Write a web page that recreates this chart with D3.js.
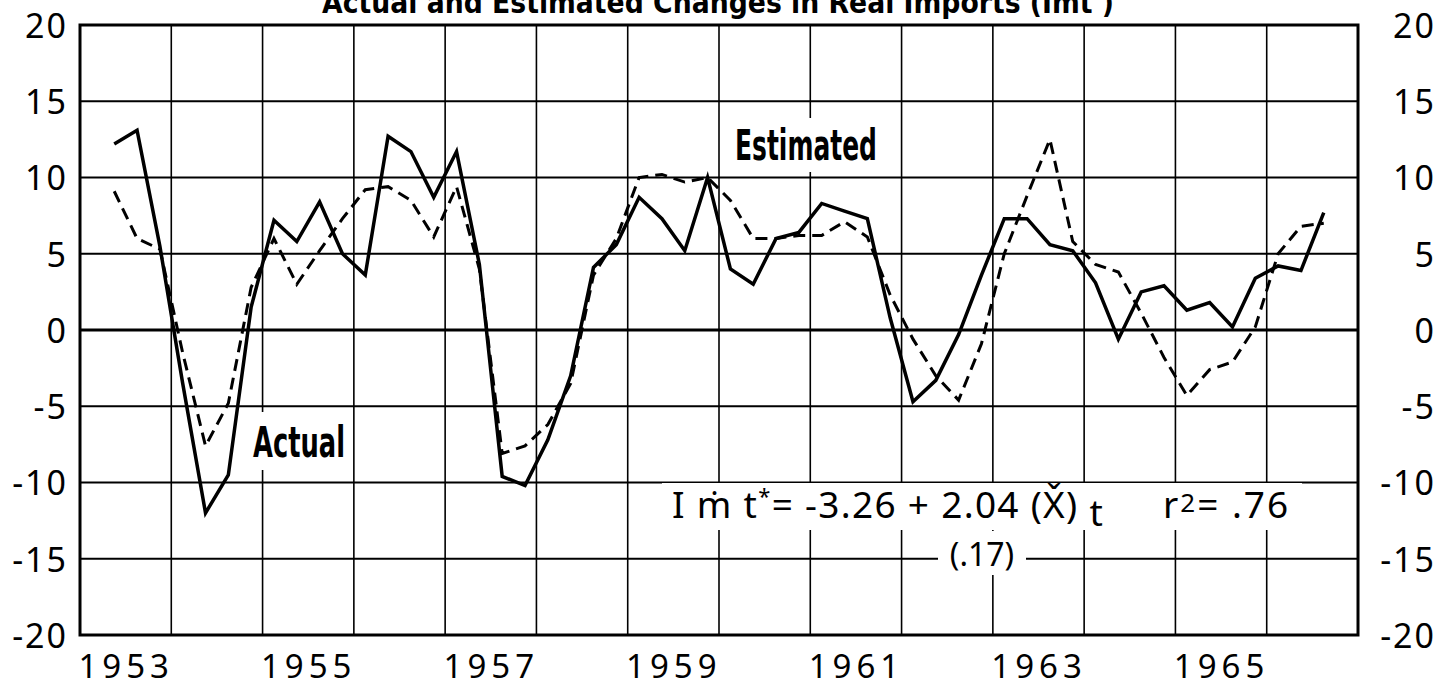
<!DOCTYPE html>
<html>
<head>
<meta charset="utf-8">
<script src="https://cdn.jsdelivr.net/npm/d3@7"></script>
<style>
  body{margin:0;background:#fff;}
  svg{display:block;}
</style>
</head>
<body>
<div id="canvas"></div>
<script>
// quarters plotted, 1953 Q2 .. 1966 Q3
var quarters = [];
for(var yr = 1953; yr <= 1966; yr++){
  for(var q = 1; q <= 4; q++){
    if((yr == 1953 && q == 1) || (yr == 1966 && q == 4)) continue;
    quarters.push(yr + 'Q' + q);
  }
}
// actual changes in real imports
var actual = [12.2, 13.1, 5.5,
  -3.5, -12.0, -9.5, 1.5,
  7.2, 5.8, 8.4, 5.0,
  3.6, 12.7, 11.7, 8.7,
  11.7, 4.3, -9.6, -10.2,
  -7.2, -3.0, 4.1, 5.6,
  8.7, 7.3, 5.2, 10.0,
  4.0, 3.0, 6.0, 6.4,
  8.3, 7.8, 7.3, 0.8,
  -4.7, -3.3, -0.3, 3.6,
  7.3, 7.3, 5.6, 5.2,
  3.1, -0.6, 2.5, 2.9,
  1.3, 1.8, 0.2, 3.4,
  4.2, 3.9, 7.7];
// estimated changes
var estimated = [9.1, 6.0, 5.3,
  -1.5, -7.6, -4.8, 2.8,
  6.0, 3.0, 5.2, 7.3,
  9.2, 9.4, 8.5, 6.1,
  9.4, 4.0, -8.1, -7.6,
  -6.2, -3.5, 3.6, 6.0,
  10.0, 10.2, 9.7, 10.0,
  8.5, 6.0, 6.0, 6.2,
  6.2, 7.1, 6.1, 2.3,
  -0.6, -3.0, -4.6, -0.9,
  5.0, 8.8, 12.5, 5.8,
  4.3, 3.8, 1.1, -1.8,
  -4.3, -2.6, -2.1, 0.2,
  5.0, 6.8, 7.0];
var yTicks = [20, 15, 10, 5, 0, -5, -10, -15, -20];
var yearLines = d3.range(1953, 1968);
var yearLabels = [1953, 1955, 1957, 1959, 1961, 1963, 1965];

var W = 1444, H = 687;
//plot frame (top is a window property, so use other names)
var plotL = 80, plotR = 1358, plotT = 25, plotB = 635;

var svg = d3.select('#canvas').append('svg')
  .attr('width', W).attr('height', H);

var x = d3.scaleLinear().domain([1953, 1967]).range([plotL, plotR]);
var y = d3.scaleLinear().domain([-20, 20]).range([plotB, plotT]);

//quarter label -> mid point of that quarter in years
function qTime(s){
  return +s.slice(0, 4) + (+s.slice(5) - 0.5) / 4;
}
//plain hyphen for negatives, like the original typesetting
function hyph(d){
  return d < 0 ? '-' + Math.abs(d) : '' + d;
}

//title, mostly cut off at the top edge like the scan
svg.append('text')
  .attr('x', 718).attr('y', 13)
  .attr('text-anchor', 'middle')
  .attr('font-family', '"Liberation Sans Narrow", "DejaVu Sans Condensed", sans-serif')
  .attr('font-weight', 'bold')
  .attr('font-size', 30)
  .attr('textLength', 792).attr('lengthAdjust', 'spacingAndGlyphs')
  .text('Actual and Estimated Changes in Real Imports (Imt )');

//horizontal grid
svg.append('g').selectAll('line').data(yTicks).enter().append('line')
  .attr('x1', plotL).attr('x2', plotR)
  .attr('y1', function(d){return y(d)}).attr('y2', function(d){return y(d)})
  .attr('stroke', '#000')
  .attr('stroke-width', function(d){return d == 0 ? 3 : 2});

//vertical grid, one per year
svg.append('g').selectAll('line').data(yearLines).enter().append('line')
  .attr('x1', function(d){return x(d)}).attr('x2', function(d){return x(d)})
  .attr('y1', plotT).attr('y2', plotB)
  .attr('stroke', '#000').attr('stroke-width', 1.6);

//frame
svg.append('rect')
  .attr('x', plotL).attr('y', plotT)
  .attr('width', plotR - plotL).attr('height', plotB - plotT)
  .attr('fill', 'none').attr('stroke', '#000').attr('stroke-width', 3);

var numFont = '"Noto Sans", "DejaVu Sans", sans-serif';

//left axis labels
var yAxisL = svg.append('g')
  .attr('transform', 'translate(' + 68 + ',0)')
  .call(d3.axisLeft(y).tickValues(yTicks).tickFormat(hyph).tickSize(0).tickPadding(0));
//right axis labels
var yAxisR = svg.append('g')
  .attr('transform', 'translate(' + 1436 + ',0)')
  .call(d3.axisLeft(y).tickValues(yTicks).tickFormat(hyph).tickSize(0).tickPadding(0));
//bottom year labels, centred in the year
var xAxis = svg.append('g')
  .attr('transform', 'translate(0,' + plotB + ')')
  .call(d3.axisBottom(x)
    .tickValues(yearLabels.map(function(d){return d + 0.5}))
    .tickFormat(function(d){return Math.floor(d)})
    .tickSize(0).tickPadding(20));

[yAxisL, yAxisR, xAxis].forEach(function(a){
  a.select('.domain').remove();
  a.selectAll('text')
   .attr('font-family', numFont)
   .attr('font-size', 34)
   .attr('fill', '#000')
   .attr('letter-spacing', 2);
});
yAxisL.selectAll('text').attr('dy', '0.36em');
yAxisR.selectAll('text').attr('dy', '0.36em');
xAxis.selectAll('text').attr('font-size', 33).attr('letter-spacing', 5).attr('dy', '0.71em');

//white boxes behind the labels that break the grid
var boxes = [[728, 118, 154, 54], [247, 412, 104, 58], [662, 483, 640, 47], [938, 531, 88, 44]];
svg.append('g').selectAll('rect').data(boxes).enter().append('rect')
  .attr('x', function(d){return d[0]}).attr('y', function(d){return d[1]})
  .attr('width', function(d){return d[2]}).attr('height', function(d){return d[3]})
  .attr('fill', '#fff');

var condFont = '"Liberation Sans Narrow", "DejaVu Sans Condensed", sans-serif';
svg.append('text')
  .attr('x', 735).attr('y', 160)
  .attr('font-family', condFont).attr('font-weight', 'bold').attr('font-size', 42)
  .attr('textLength', 142).attr('lengthAdjust', 'spacingAndGlyphs')
  .text('Estimated');
svg.append('text')
  .attr('x', 253).attr('y', 457)
  .attr('font-family', condFont).attr('font-weight', 'bold').attr('font-size', 42)
  .attr('textLength', 92).attr('lengthAdjust', 'spacingAndGlyphs')
  .text('Actual');

//regression equation
var eq = svg.append('text')
  .attr('x', 672).attr('y', 518)
  .attr('font-family', numFont).attr('font-size', 37).attr('fill', '#000')
  .attr('letter-spacing', 1.3);
eq.append('tspan').text('I \u1E41 t');
eq.append('tspan').attr('font-size', 22).attr('dy', -14).text('*');
eq.append('tspan').attr('dy', 14).text('= -3.26 + 2.04 (X\u030C)');
eq.append('tspan').attr('dy', 8).text(' t');
var r2 = svg.append('text')
  .attr('x', 1163).attr('y', 518)
  .attr('font-family', numFont).attr('font-size', 37)
  .attr('letter-spacing', 2);
r2.append('tspan').text('r');
r2.append('tspan').attr('font-size', 26).attr('dy', -6).text('2');
r2.append('tspan').attr('dy', 6).text('= .76');
svg.append('text')
  .attr('x', 982).attr('y', 566)
  .attr('text-anchor', 'middle')
  .attr('font-family', numFont).attr('font-size', 32)
  .text('(.17)');

//the two series
var actualPts = quarters.map(function(s, i){return [qTime(s), actual[i]]});
var estPts = quarters.map(function(s, i){return [qTime(s), estimated[i]]});
var genLine = d3.line()
  .x(function(d){return x(d[0])})
  .y(function(d){return y(d[1])});

svg.append('path')
  .attr('d', genLine(estPts))
  .attr('fill', 'none').attr('stroke', '#000')
  .attr('stroke-width', 3)
  .attr('stroke-dasharray', '12,7');
svg.append('path')
  .attr('d', genLine(actualPts))
  .attr('fill', 'none').attr('stroke', '#000')
  .attr('stroke-width', 3.5)
  .attr('stroke-linejoin', 'miter');
</script>
</body>
</html>
